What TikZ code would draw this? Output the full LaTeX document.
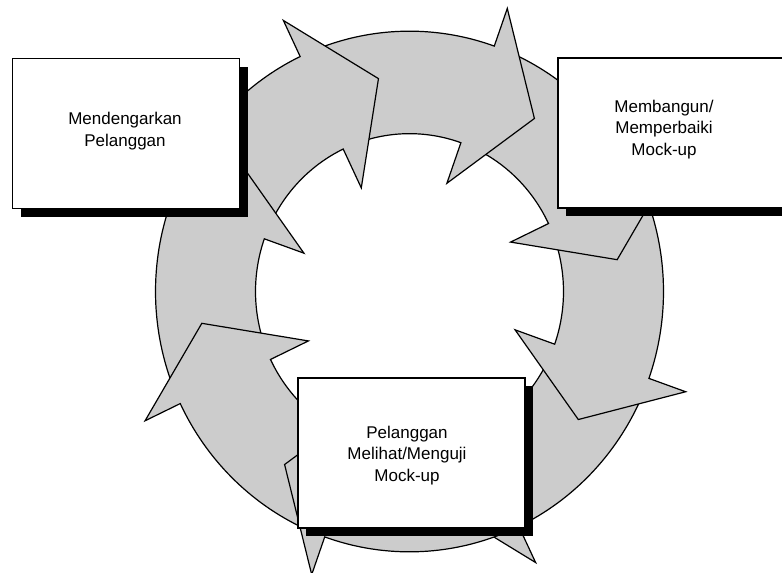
\documentclass[tikz,border=0pt]{standalone}
\usepackage{fontspec}
\setmainfont{Liberation Sans}
\usetikzlibrary{shadows}
\begin{document}
\begin{tikzpicture}[x=1pt,y=1pt,
  blok/.style={draw, line width=1.5pt, fill=white,
    minimum width=227pt, minimum height=150pt,
    drop shadow={shadow xshift=8pt, shadow yshift=-8pt, fill=black, opacity=1}},
  nadpis/.style={align=center, font=\fontsize{17}{21.5}\selectfont},
  strelka/.style={draw, line width=1.2pt, fill=black!20, line join=miter}]
\useasboundingbox (0,0) rectangle (782,-573);
% радиусы кольца
\def\Rout{254}
\def\Rin{154}
%кольцо из стрелок
\begin{scope}[shift={(409.5,-291.5)}, yscale=1.025]
\foreach \t in {-81.5,-36.5,8.5,53.5,98.5,143.5,188.5,233.5}{
  \pgfmathsetmacro\b{\t+17}
  \pgfmathsetmacro\s{\t+57}
  \draw[strelka] (\s:\Rout) arc[start angle=\s, end angle=\b, radius=\Rout]
    -- (\b:293) -- (\t:210) -- (\b:112) -- (\b:\Rin)
    arc[start angle=\b, end angle=\s, radius=\Rin] -- cycle;
}
\end{scope}
%блоки
\node[blok] (lbox) at (126,-133.5) {};
\node[blok] (rbox) at (671.5,-133) {};
\node[blok] (bbox) at (411.5,-453) {};
%надписи
\node[nadpis] (ltxt) at (125,-131) {Mendengarkan\\Pelanggan};
\node[nadpis] (rtxt) at (664,-129.5) {Membangun/\\Memperbaiki\\Mock-up};
\node[nadpis] (btxt) at (407,-455.5) {Pelanggan\\Melihat/Menguji\\Mock-up};
\end{tikzpicture}
\end{document}
